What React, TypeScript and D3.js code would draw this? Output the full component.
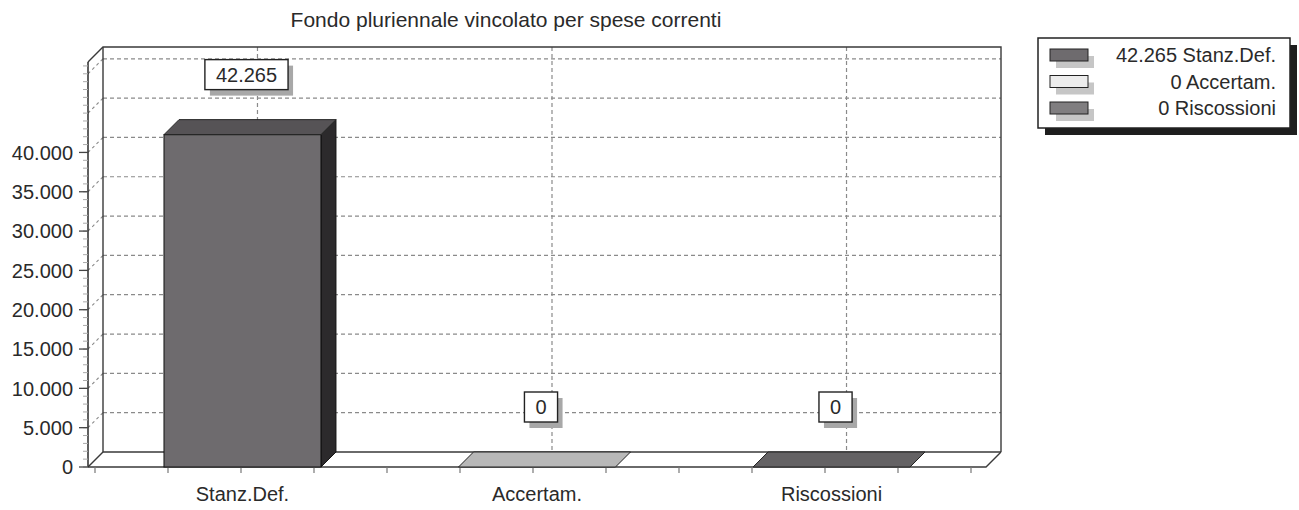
import { useRef, useEffect } from 'react'
import * as d3 from 'd3'

const title = 'Fondo pluriennale vincolato per spese correnti'
const categories = ['Stanz.Def.', 'Accertam.', 'Riscossioni']
const values = [42265, 0, 0]
const seriesColors = ['#6e6b6e', '#ececec', '#807e80']
const yTickLabels = [0, 5000, 10000, 15000, 20000, 25000, 30000, 35000, 40000]
const gridValues = [5000, 10000, 15000, 20000, 25000, 30000, 35000, 40000, 45000, 50000]
const yMax = 51500

const W = 1299
const H = 510
const FONT = "'Liberation Sans', Arial, sans-serif"

const it = d3.formatLocale({ decimal: ',', thousands: '.', grouping: [3], currency: ['€', ''] })
const fmt = it.format(',d')

const App = () => {
  const svgRef = useRef<SVGSVGElement>(null)

  useEffect(() => {
    const svg = d3.select(svgRef.current)
    svg.selectAll('*').remove()

    // 3d box geometry
    const x0 = 88
    const x1 = 986
    const dx = 15
    const dy = 15
    const y = d3.scaleLinear().domain([0, yMax]).range([467, 62])
    const x = d3.scaleBand().domain(categories).range([x0, x1]).paddingInner(0.467).paddingOuter(0.258)
    const tickX = d3.scaleLinear().domain([0, 12]).range([95, 971])
    const yTop = y(yMax)
    const yBase = y(0)

    svg.append('rect').attr('width', W).attr('height', H).attr('fill', '#fff')

    svg
      .append('text')
      .text(title)
      .attr('x', 506)
      .attr('y', 27)
      .attr('text-anchor', 'middle')
      .style('font', `21px ${FONT}`)
      .attr('fill', '#2a2a2a')

    const g = svg.append('g')
    const dash = '4,3'

    // back wall gridlines
    g.selectAll('line.hgrid')
      .data(gridValues)
      .join('line')
      .attr('x1', x0 + dx)
      .attr('x2', x1 + dx)
      .attr('y1', (d) => y(d) - dy)
      .attr('y2', (d) => y(d) - dy)
      .attr('stroke', '#8a8a8a')
      .attr('stroke-width', 1.2)
      .attr('stroke-dasharray', dash)

    // side wall gridlines
    g.selectAll('line.sgrid')
      .data(gridValues)
      .join('line')
      .attr('x1', x0)
      .attr('x2', x0 + dx)
      .attr('y1', (d) => y(d))
      .attr('y2', (d) => y(d) - dy)
      .attr('stroke', '#8a8a8a')
      .attr('stroke-width', 1.1)
      .attr('stroke-dasharray', '3,3')

    // vertical gridlines
    g.selectAll('line.vgrid')
      .data(categories)
      .join('line')
      .attr('x1', (d) => x(d)! + x.bandwidth() / 2 + dx)
      .attr('x2', (d) => x(d)! + x.bandwidth() / 2 + dx)
      .attr('y1', yTop - dy)
      .attr('y2', yBase - dy)
      .attr('stroke', '#8a8a8a')
      .attr('stroke-width', 1.2)
      .attr('stroke-dasharray', dash)

    // frame
    const frame = [
      [[x0, yTop], [x0 + dx, yTop - dy], [x1 + dx, yTop - dy], [x1 + dx, yBase - dy]],
      [[x0 + dx, yTop - dy], [x0 + dx, yBase - dy], [x1 + dx, yBase - dy]],
      [[x0, yBase], [x0 + dx, yBase - dy]],
      [[x0, yBase], [x1, yBase], [x1 + dx, yBase - dy]],
    ]
    g.selectAll('path.frame')
      .data(frame)
      .join('path')
      .attr('d', (d) => d3.line()(d as [number, number][]))
      .attr('fill', 'none')
      .attr('stroke', '#3a3a3a')
      .attr('stroke-width', 1.4)

    // left axis
    g.append('line').attr('x1', x0).attr('x2', x0).attr('y1', yBase).attr('y2', yTop).attr('stroke', '#2a2a2a').attr('stroke-width', 1.5)
    g.selectAll('line.minor')
      .data(d3.range(0, yMax, 1000))
      .join('line')
      .attr('x1', x0 - 5)
      .attr('x2', x0)
      .attr('y1', (d) => y(d))
      .attr('y2', (d) => y(d))
      .attr('stroke', '#aaa')
      .attr('stroke-width', 1)
    g.selectAll('line.major')
      .data(yTickLabels)
      .join('line')
      .attr('x1', x0 - 9)
      .attr('x2', x0)
      .attr('y1', (d) => y(d))
      .attr('y2', (d) => y(d))
      .attr('stroke', '#444')
      .attr('stroke-width', 1.3)
    g.selectAll('text.ylab')
      .data(yTickLabels)
      .join('text')
      .text((d) => fmt(d))
      .attr('x', x0 - 15)
      .attr('y', (d) => y(d))
      .attr('dy', '0.36em')
      .attr('text-anchor', 'end')
      .style('font', `20px ${FONT}`)
      .attr('fill', '#2a2a2a')

    // bottom ticks
    g.selectAll('line.xtick')
      .data(d3.range(13))
      .join('line')
      .attr('x1', (d) => tickX(d))
      .attr('x2', (d) => tickX(d))
      .attr('y1', yBase)
      .attr('y2', yBase + 6)
      .attr('stroke', '#777')
      .attr('stroke-width', 1.2)

    g.selectAll('text.xlab')
      .data(categories)
      .join('text')
      .text((d) => d)
      .attr('x', (d) => x(d)! + x.bandwidth() / 2)
      .attr('y', 501)
      .attr('text-anchor', 'middle')
      .style('font', `20px ${FONT}`)
      .attr('fill', '#2a2a2a')

    // bars
    const bars = g.selectAll('g.bar').data(categories).join('g')
    bars.each(function (cat, i) {
      const bg = d3.select(this)
      const bx0 = x(cat)!
      const bx1 = bx0 + x.bandwidth()
      const yt = y(values[i])
      const base = d3.color(seriesColors[i])!
      const top = base.darker(0.7).formatHex()
      const side = base.darker(2.6).formatHex()
      const line = d3.line()
      if (values[i] > 0) {
        bg.append('path')
          .attr('d', line([[bx1, yt], [bx1 + dx, yt - dy], [bx1 + dx, yBase - dy], [bx1, yBase]])! + 'Z')
          .attr('fill', side)
          .attr('stroke', '#111')
          .attr('stroke-width', 1)
        bg.append('rect')
          .attr('x', bx0)
          .attr('y', yt)
          .attr('width', bx1 - bx0)
          .attr('height', yBase - yt)
          .attr('fill', base.formatHex())
          .attr('stroke', '#111')
          .attr('stroke-width', 1)
      }
      bg.append('path')
        .attr('d', line([[bx0, yt], [bx0 + dx, yt - dy], [bx1 + dx, yt - dy], [bx1, yt]])! + 'Z')
        .attr('fill', top)
        .attr('stroke', '#222')
        .attr('stroke-width', 1)
    })

    // value labels
    const labels = g.selectAll('g.vlab').data(categories).join('g')
    labels.each(function (cat, i) {
      const lg = d3.select(this)
      const cx = x(cat)! + x.bandwidth() / 2 + 4
      const bottom = y(values[i]) - 45
      const txt = lg
        .append('text')
        .text(fmt(values[i]))
        .attr('x', cx)
        .attr('y', bottom - 15)
        .attr('dy', '0.36em')
        .attr('text-anchor', 'middle')
        .style('font', `20px ${FONT}`)
        .attr('fill', '#2a2a2a')
      const tw = (txt.node() as SVGTextElement).getComputedTextLength()
      const bw = tw + 22
      lg.insert('rect', 'text')
        .attr('x', cx - bw / 2 + 5)
        .attr('y', bottom - 30 + 6)
        .attr('width', bw)
        .attr('height', 30)
        .attr('fill', '#a8a8a8')
      lg.insert('rect', 'text')
        .attr('x', cx - bw / 2)
        .attr('y', bottom - 30)
        .attr('width', bw)
        .attr('height', 30)
        .attr('fill', '#fff')
        .attr('stroke', '#222')
        .attr('stroke-width', 1.4)
    })

    // legend
    const leg = svg.append('g').attr('transform', 'translate(1038, 38)')
    leg.append('rect').attr('x', 7).attr('y', 7).attr('width', 252).attr('height', 90).attr('fill', '#1e1e1e')
    leg.append('rect').attr('width', 252).attr('height', 90).attr('fill', '#fff').attr('stroke', '#222').attr('stroke-width', 1.5)
    const rows = leg
      .selectAll('g.row')
      .data(categories)
      .join('g')
      .attr('transform', (d, i) => `translate(0, ${17 + i * 26.5})`)
    rows.append('rect').attr('x', 18).attr('y', 1).attr('width', 38).attr('height', 12).attr('fill', '#c6c6c6')
    rows
      .append('rect')
      .attr('x', 12)
      .attr('y', -6)
      .attr('width', 38)
      .attr('height', 12)
      .attr('fill', (d, i) => seriesColors[i])
      .attr('stroke', '#222')
      .attr('stroke-width', 1)
    rows
      .append('text')
      .text((d, i) => `${fmt(values[i])} ${d}`)
      .attr('x', 238)
      .attr('y', 0)
      .attr('dy', '0.36em')
      .attr('text-anchor', 'end')
      .style('font', `20px ${FONT}`)
      .attr('fill', '#2a2a2a')
  }, [])

  return (
    <svg
      ref={svgRef}
      width={W}
      height={H}
      style={{ position: 'absolute', left: 0, top: 0, display: 'block' }}
    ></svg>
  )
}

export default App
